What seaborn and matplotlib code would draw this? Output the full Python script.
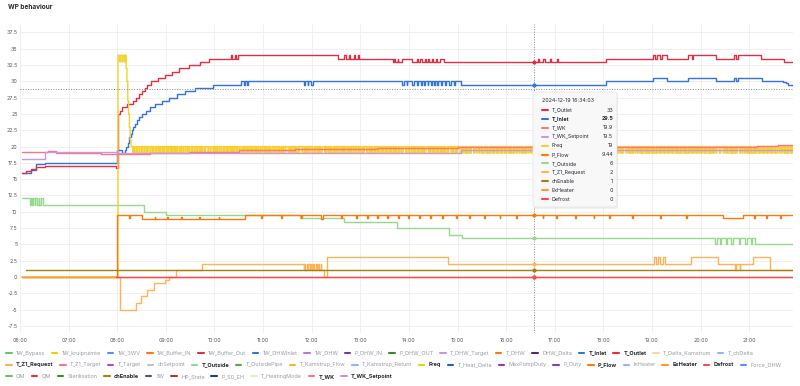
import matplotlib
matplotlib.use("Agg")
import numpy as np
import pandas as pd
import matplotlib.pyplot as plt
import seaborn as sns
from matplotlib.lines import Line2D
from matplotlib.patches import FancyBboxPatch


# ---------------- data ----------------
TITLE = "WP behaviour"
END = "21:54"
CURSOR_TIME = "16:34:03"
CURSOR_DATE = "2024-12-19"
CURSOR_Y = 28.8

t_outlet = [("06:02", 15.9), ("06:08", 16.2), ("06:14", 16.5), ("06:20", 16.9), ("06:31", 17.0),
            ("07:58", 16.7), ("08:01", 25.0), ("08:04", 25.5), ("08:06", 26.0), ("08:12", 26.5),
            ("08:19", 27.0), ("08:23", 27.5), ("08:27", 28.0), ("08:31", 28.5), ("08:34", 29.0),
            ("08:37", 29.5), ("08:42", 30.0), ("08:50", 30.5), ("08:59", 31.0), ("09:08", 31.5),
            ("09:16", 32.0), ("09:28", 32.5), ("09:42", 33.0), ("09:53", 33.5), ("10:20", 34.0),
            ("10:22", 33.5), ("10:25", 34.0), ("10:27", 33.5), ("10:29", 34.0), ("12:32", 33.5),
            ("12:40", 34.0), ("12:42", 33.5), ("12:46", 34.0), ("12:47", 33.5), ("12:52", 34.0),
            ("12:53", 33.5), ("12:57", 34.0), ("12:58", 33.5), ("13:40", 33.0), ("13:42", 33.5),
            ("13:43", 33.0), ("13:46", 33.5), ("13:47", 33.0), ("13:52", 33.5), ("14:04", 33.0),
            ("14:10", 33.5), ("14:11", 33.0), ("14:14", 33.5), ("14:16", 33.0), ("14:20", 33.5),
            ("14:21", 33.0), ("14:24", 33.5), ("14:25", 33.0), ("14:28", 33.5), ("14:30", 33.0),
            ("14:33", 33.5), ("14:35", 33.0), ("14:38", 33.5), ("14:43", 33.0), ("16:39", 33.5),
            ("16:41", 33.0), ("16:46", 33.5), ("16:48", 33.0), ("16:54", 33.5), ("16:55", 33.0),
            ("17:03", 33.5), ("17:04", 33.0), ("18:03", 33.5), ("19:01", 34.0), ("19:04", 33.5),
            ("19:06", 34.0), ("19:10", 33.5), ("19:12", 34.0), ("19:19", 33.5), ("19:45", 34.0),
            ("19:49", 33.5), ("19:51", 34.0), ("20:19", 33.5), ("20:41", 34.0), ("20:44", 33.5),
            ("20:46", 34.0), ("21:14", 33.5), ("21:43", 33.0)]

t_inlet = [("06:02", 16.0), ("06:14", 16.4), ("06:20", 17.3), ("06:31", 17.5), ("08:00", 19.5),
           ("08:06", 19.0), ("08:09", 19.5), ("08:11", 20.0), ("08:13", 20.5), ("08:14", 21.0),
           ("08:15", 21.5), ("08:17", 22.0), ("08:18", 22.5), ("08:20", 23.0), ("08:22", 23.5),
           ("08:24", 24.0), ("08:27", 24.5), ("08:31", 25.0), ("08:35", 25.5), ("08:41", 26.0),
           ("08:47", 26.5), ("08:55", 27.0), ("09:04", 27.5), ("09:14", 28.0), ("09:24", 28.5),
           ("09:36", 29.0), ("09:58", 29.5), ("10:33", 30.0), ("10:36", 29.5), ("10:38", 30.0),
           ("10:40", 29.5), ("10:42", 30.0), ("11:50", 29.5), ("11:52", 30.0), ("11:55", 29.5),
           ("11:56", 30.0), ("11:59", 29.5), ("12:01", 30.0), ("13:52", 29.5), ("13:54", 30.0),
           ("13:57", 29.5), ("13:58", 30.0), ("14:04", 29.5), ("14:06", 30.0), ("14:10", 29.5),
           ("14:11", 30.0), ("14:15", 29.5), ("14:16", 30.0), ("14:19", 29.5), ("14:20", 30.0),
           ("14:23", 29.5), ("14:24", 30.0), ("14:27", 29.5), ("14:28", 30.0), ("14:31", 29.5),
           ("14:32", 30.0), ("14:35", 29.5), ("14:36", 30.0), ("14:39", 29.5), ("14:41", 30.0),
           ("14:45", 29.5), ("14:46", 30.0), ("14:50", 29.5), ("14:52", 30.0), ("14:56", 29.5),
           ("14:57", 30.0), ("15:04", 29.5), ("18:03", 30.0), ("19:01", 30.5), ("19:19", 30.0),
           ("19:45", 30.5), ("20:19", 30.0), ("20:41", 30.5), ("20:44", 30.0), ("20:46", 30.5),
           ("21:16", 30.0), ("21:42", 29.9), ("21:45", 29.7), ("21:48", 29.5)]

t_wk = [("06:02", 19.1), ("06:35", 19.3), ("06:45", 19.0), ("07:40", 18.8), ("08:00", 18.9),
        ("08:40", 19.0), ("09:30", 19.2), ("10:30", 19.4), ("11:40", 19.6), ("13:20", 19.8),
        ("15:00", 19.9), ("21:10", 20.1), ("21:35", 20.3)]

t_wk_setpoint = [("06:02", 18.1), ("06:31", 19.2), ("08:00", 19.0), ("15:04", 19.5)]

# Freq: start-up spike, then one bit per minute from 08:18 (0 -> 19 Hz, 1 -> 20 Hz),
# four minutes packed in each hex digit
freq_spike = [("06:02", 0), ("08:01", 34), ("08:03", 33), ("08:04", 34), ("08:06", 33),
              ("08:07", 34), ("08:09", 33), ("08:10", 34), ("08:11", 32), ("08:12", 30),
              ("08:13", 27), ("08:14", 25), ("08:15", 23), ("08:16", 21), ("08:17", 20)]
freq_start = "08:18"
freq_low, freq_high = 19, 20
freq_hex = ("A5B6D9A5AD6B5A96DA5B6A5D9AB65AD5A6"
            "5AD6A9B5A6DA5B96A5DAB65A9D6A5B6AD5"
            "B6A5DA96B5AD6A59DA6B5A9D6B5AA5D6B9"
            "6A5DB69A5AD6B5A96DA5B65D59A6B5DA6A"
            "D5A6B9A5D6AB5A69DA5B6AD5A96B5AD6A5"
            "A96B5AD6A5B9DA6A5DB6A95AD6B5A6DA5A")

p_flow = [("06:02", 0), ("08:00", 9.5), ("08:14", 9.0), ("08:16", 9.5), ("08:31", 8.9),
          ("08:46", 9.2), ("08:47", 8.9), ("09:02", 9.2), ("09:03", 8.9), ("09:19", 9.2),
          ("09:20", 8.9), ("09:41", 9.2), ("09:42", 8.9), ("10:05", 9.2), ("10:06", 8.9),
          ("10:38", 9.44), ("10:58", 9.0), ("10:59", 9.44), ("11:22", 9.0), ("11:23", 9.44),
          ("11:47", 9.0), ("11:48", 9.44), ("12:12", 8.9), ("12:14", 9.44), ("12:36", 9.0),
          ("12:37", 9.44), ("12:55", 9.0), ("12:56", 9.44), ("13:08", 9.0), ("13:09", 9.44),
          ("13:21", 9.0), ("13:22", 9.44), ("13:33", 9.0), ("13:34", 9.44), ("13:47", 9.0),
          ("13:48", 9.44), ("13:59", 9.0), ("14:00", 9.44), ("14:13", 9.0), ("14:14", 9.44),
          ("14:26", 9.0), ("14:27", 9.44), ("14:41", 9.0), ("14:42", 9.44), ("14:58", 9.0),
          ("14:59", 9.44), ("15:14", 9.0), ("15:15", 9.44), ("15:33", 9.0), ("15:34", 9.44),
          ("15:52", 9.0), ("15:53", 9.44), ("16:12", 9.0), ("16:13", 9.44), ("16:45", 9.0),
          ("16:46", 9.44), ("17:02", 9.0), ("17:03", 9.44), ("17:25", 9.0), ("17:26", 9.44),
          ("17:48", 9.0), ("17:49", 9.44), ("18:07", 9.0), ("18:08", 9.44), ("18:35", 9.0),
          ("18:36", 9.44), ("19:10", 9.0), ("19:11", 9.44), ("19:42", 9.0), ("19:43", 9.44),
          ("20:28", 9.0), ("20:52", 9.44), ("21:06", 9.0), ("21:07", 9.44), ("21:21", 9.0),
          ("21:22", 9.44), ("21:38", 9.0), ("21:39", 9.44)]

t_outside = [("06:02", 12.1), ("06:12", 11.0), ("06:13", 12.1), ("06:15", 11.0), ("06:16", 12.1),
             ("06:18", 11.0), ("06:19", 12.1), ("06:21", 11.0), ("06:23", 12.1), ("06:24", 11.0),
             ("06:26", 12.1), ("06:28", 11.0), ("08:33", 10.0), ("09:00", 9.5), ("11:45", 9.0),
             ("12:40", 8.5), ("13:45", 7.5), ("14:50", 6.5), ("15:05", 6.0), ("20:18", 5.0),
             ("20:20", 6.0), ("20:24", 5.0), ("20:25", 6.0), ("20:31", 5.0), ("20:33", 6.0),
             ("20:38", 5.0), ("20:40", 6.0), ("20:47", 5.0), ("20:49", 6.0), ("20:55", 5.0),
             ("20:57", 6.0), ("21:02", 5.0), ("21:03", 6.0), ("21:07", 5.0)]

t_z1_request = [("06:02", 0), ("08:03", -5), ("08:23", -4), ("08:29", -3), ("08:37", -2),
                ("08:45", -1), ("08:59", -0.5), ("09:04", 0), ("09:13", 1), ("09:44", 2),
                ("11:50", 1), ("11:51", 2), ("11:52", 1), ("11:54", 2), ("11:55", 1),
                ("11:56", 2), ("11:58", 1), ("11:59", 2), ("12:00", 1), ("12:02", 2),
                ("12:03", 1), ("12:05", 2), ("12:06", 1), ("12:08", 2), ("12:09", 1),
                ("12:11", 2), ("12:12", 1), ("12:15", 0), ("12:19", 3), ("14:48", 2),
                ("19:03", 3), ("19:05", 2), ("19:08", 3), ("19:10", 2), ("19:13", 3),
                ("19:16", 2), ("19:48", 3), ("20:21", 2), ("20:43", 1), ("20:44", 2),
                ("20:48", 1), ("20:49", 2), ("21:05", 3), ("21:26", 1)]

ch_enable = [("06:07", 1)]
ex_heater = [("06:02", 0)]
defrost = [("07:58", 0)]

# drawing order and colours of the shown series
SHOWN = [("T_Inlet", t_inlet, "#3274D9"),
         ("T_Outlet", t_outlet, "#E02F44"),
         ("T_Z1_Request", t_z1_request, "#FFB357"),
         ("T_Outside", t_outside, "#96D98D"),
         ("Freq", None, "#F5D130"),
         ("P_Flow", p_flow, "#FF780A"),
         ("ExHeater", ex_heater, "#FF9830"),
         ("Defrost", defrost, "#F2495C"),
         ("chEnable", ch_enable, "#A0820F"),
         ("T_WK", t_wk, "#FF7383"),
         ("T_WK_Setpoint", t_wk_setpoint, "#CA95E5")]

legend_row1 = [("1W_Bypass", "#73BF69"), ("1W_kruipruimte", "#F2CC0C"), ("1W_3WV", "#5794F2"),
               ("1W_Buffer_IN", "#FF780A"), ("1W_Buffer_Out", "#E02F44"), ("1W_DHWInlet", "#3274D9"),
               ("1W_DHW", "#B877D9"), ("P_DHW_IN", "#6E3C9E"), ("P_DHW_OUT", "#37872D"),
               ("T_DHW_Target", "#CA95E5"), ("T_DHW", "#FF780A"), ("DHW_Delta", "#4B2F5E"),
               ("T_Inlet", "#3274D9"), ("T_Outlet", "#E02F44"), ("T_Delta_Kamstrum", "#F8D9A0"),
               ("T_chDelta", "#8AB8FF")]
legend_row2 = [("T_Z1_Request", "#FFB357"), ("T_Z1_Target", "#FF7383"), ("T_Target", "#A352CC"),
               ("chSetpoint", "#B8C4D4"), ("T_Outside", "#96D98D"), ("T_OutsidePipe", "#56A64B"),
               ("T_Kamstrup_Flow", "#F5B73B"), ("T_Kamstrup_Return", "#8AB8FF"), ("Freq", "#F2CC0C"),
               ("T_Heat_Delta", "#1F60C4"), ("MaxPumpDuty", "#8F3BB8"), ("P_Duty", "#8F3BB8"),
               ("P_Flow", "#FF780A"), ("InHeater", "#8AB8FF"), ("ExHeater", "#FF9830"),
               ("Defrost", "#F2495C"), ("Force_DHW", "#5794F2")]
legend_row3 = [("OM", "#73BF69"), ("QM", "#E02F44"), ("Sterilisation", "#37872D"),
               ("chEnable", "#A0820F"), ("3W", "#4B5563"), ("HP_State", "#A0422A"),
               ("P_S0_EH", "#1F3F7A"), ("T_HeatingMode", "#D8F2D0"), ("T_WK", "#FF7383"),
               ("T_WK_Setpoint", "#CA95E5")]


# ---------------- helpers ----------------
def hours(s):
    parts = [int(p) for p in s.split(":")]
    while len(parts) < 3:
        parts.append(0)
    return parts[0] + parts[1] / 60 + parts[2] / 3600


def freq_points():
    pts = list(freq_spike)
    t0 = hours(freq_start)
    bits = "".join(format(int(c, 16), "04b") for c in freq_hex)
    for i, b in enumerate(bits):
        t = t0 + i / 60
        if t >= hours(END):
            break
        pts.append((t, freq_high if b == "1" else freq_low))
    return pts


def to_frame(name, pts):
    t = [hours(p[0]) if isinstance(p[0], str) else p[0] for p in pts]
    v = [p[1] for p in pts]
    t.append(hours(END))
    v.append(v[-1])
    return pd.DataFrame({"hour": t, "value": v, "series": name})


def value_at(df, h):
    prev = df[df["hour"] <= h]
    return prev["value"].iloc[-1]


W, H = 800, 386


def fx(px):
    return px / W


def fy(py):
    return 1 - py / H


# ---------------- figure ----------------
sns.set_style("white")
plt.rcParams["font.family"] = ["Inter", "DejaVu Sans"]

fig = plt.figure(figsize=(8, 3.86), dpi=100, facecolor="white")
ax = fig.add_axes([fx(20), fy(333), fx(793) - fx(20), fy(24) - fy(333)])

frames = {}
for name, pts, color in SHOWN:
    if pts is None:
        pts = freq_points()
    df = to_frame(name, pts)
    frames[name] = df
    sns.lineplot(data=df, x="hour", y="value", color=color, linewidth=1.0,
                 drawstyle="steps-post", estimator=None, sort=False, legend=False, ax=ax)

ax.set_xlim(6, hours(END))
ax.set_ylim(-8.6, 38.8)
ax.set_xticks(range(6, 22))
ax.set_xticklabels([f"{h:02d}:00" for h in range(6, 22)])
yt = np.arange(-7.5, 37.6, 2.5)
ax.set_yticks(yt)
ax.set_yticklabels([f"{v:g}" for v in yt])
ax.tick_params(axis="both", length=0, labelsize=3.8, labelcolor="#52575d")
ax.tick_params(axis="y", pad=1.8)
ax.tick_params(axis="x", pad=3.5)
ax.set_xlabel("")
ax.set_ylabel("")
ax.grid(True, color="#eeeeee", linewidth=0.6)
ax.set_axisbelow(True)
for s in ax.spines.values():
    s.set_visible(False)

# crosshair
t_cross = hours(CURSOR_TIME)
ax.axvline(t_cross, color="#8a8a8a", linewidth=0.7, linestyle=(0, (1, 1.6)), zorder=5)
ax.axhline(CURSOR_Y, color="#8a8a8a", linewidth=0.7, linestyle=(0, (1, 1.6)), zorder=5)

tip_rows = []
for name, pts, color in SHOWN:
    v = value_at(frames[name], t_cross)
    tip_rows.append((name, v, color))
    ax.scatter([t_cross], [v], s=9, color=color, zorder=6, linewidths=0)

# title
fig.text(fx(8), fy(7), TITLE, fontsize=4.7, fontweight="bold", color="#24292e",
         ha="left", va="center")

# tooltip
shadow = FancyBboxPatch((fx(534), fy(209)), fx(84), fy(93) - fy(209),
                        boxstyle="round,pad=0,rounding_size=0.004",
                        transform=fig.transFigure, facecolor="#000000", alpha=0.06,
                        edgecolor="none", zorder=9)
fig.add_artist(shadow)
box = FancyBboxPatch((fx(533), fy(207)), fx(84), fy(92) - fy(207),
                     boxstyle="round,pad=0,rounding_size=0.004",
                     transform=fig.transFigure, facecolor="#f8f8f9",
                     edgecolor="#e2e3e6", linewidth=0.5, zorder=10)
fig.add_artist(box)
fig.text(fx(541.5), fy(100.7), f"{CURSOR_DATE} {CURSOR_TIME}", fontsize=3.8,
         color="#24292e", ha="left", va="center", zorder=11)

nearest = min(tip_rows, key=lambda r: abs(r[1] - CURSOR_Y))[0]
tip_rows = sorted(tip_rows, key=lambda r: -r[1])
for i, (name, v, color) in enumerate(tip_rows):
    y = 110 + i * 8.9
    fig.add_artist(Line2D([fx(542), fx(548)], [fy(y), fy(y)], color=color, linewidth=1.5,
                          transform=fig.transFigure, zorder=11))
    weight = "bold" if name == nearest else "normal"
    fig.text(fx(552), fy(y), name, fontsize=3.8, color="#24292e", fontweight=weight,
             ha="left", va="center", zorder=11)
    fig.text(fx(613), fy(y), f"{v:g}", fontsize=3.8, color="#24292e", fontweight=weight,
             ha="right", va="center", zorder=11)

# legend (flow layout)
shown_names = {n for n, _, _ in SHOWN}
renderer = fig.canvas.get_renderer()
for row, y in [(legend_row1, 353), (legend_row2, 364.7), (legend_row3, 376.3)]:
    x = 6
    for name, color in row:
        on = name in shown_names
        fig.add_artist(Line2D([fx(x), fx(x + 5.5)], [fy(y), fy(y)], color=color,
                              linewidth=1.5, transform=fig.transFigure))
        t = fig.text(fx(x + 10), fy(y), name, fontsize=4.0,
                     fontweight="bold" if on else "normal",
                     color="#24292e" if on else "#9a9ea5", ha="left", va="center")
        w = t.get_window_extent(renderer).width
        x = x + 10 + w + 6.5

fig.savefig("out.png", dpi=100, facecolor="white")
plt.close(fig)
